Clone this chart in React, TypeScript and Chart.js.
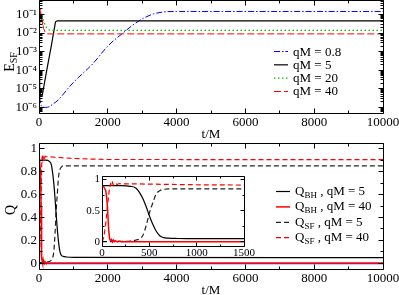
import React, { useEffect, useRef } from 'react';
import { Chart, registerables } from 'chart.js';
Chart.register(...registerables);

const FONT = "'Liberation Serif', 'Times New Roman', Times, serif";

// ---------- top panel: E_SF ----------
const topXTicks = [0, 2000, 4000, 6000, 8000, 10000];
const topXMinor = [1000, 3000, 5000, 7000, 9000];
const topYTicks = [1e-6, 1e-5, 1e-4, 1e-3, 1e-2, 1e-1];
const topYTickLabels = ['10⁻⁶', '10⁻⁵', '10⁻⁴', '10⁻³', '10⁻²', '10⁻¹'];
const topLegend = ['qM = 0.8', 'qM = 5', 'qM = 20', 'qM = 40'];

const tQm08 = [0, 20, 50, 100, 200, 300, 400, 560, 790, 1000, 1580, 2000, 2440, 2730, 3030, 3320, 3600, 4000, 10000];
const eQm08 = [1.5e-5, 4e-6, 1.5e-6, 1.1e-6, 1.0e-6, 1.1e-6, 1.5e-6, 2.5e-6, 8e-6, 2.2e-5, 2.4e-4, 2e-3, 1e-2, 2.7e-2, 6.2e-2, 1.06e-1, 1.35e-1, 1.45e-1, 1.45e-1];
const tQm5 = [0, 20, 50, 90, 210, 355, 480, 530, 10000];
const eQm5 = [1e-4, 1e-5, 4e-6, 4e-6, 7e-5, 1.9e-3, 4e-2, 4.6e-2, 4.5e-2];
const tQm20 = [0, 15, 40, 70, 100, 140, 200, 260, 320, 10000];
const eQm20 = [1e-3, 1e-2, 8e-2, 1.1e-1, 7e-2, 4e-2, 2.2e-2, 1.6e-2, 1.4e-2, 1.4e-2];
const tQm40 = [0, 10, 20, 30, 40, 50, 60, 70, 80, 90, 100, 115, 130, 150, 180, 220, 10000];
const eQm40 = [1e-2, 5e-2, 1.5e-1, 2e-1, 9e-2, 1.4e-1, 6e-2, 1e-1, 4e-2, 7e-2, 3e-2, 4e-2, 1.8e-2, 1.5e-2, 1.1e-2, 9e-3, 9e-3];

// ---------- bottom panel: Q ----------
const botXTicks = [0, 2000, 4000, 6000, 8000, 10000];
const botXMinor = [1000, 3000, 5000, 7000, 9000];
const botYTicks = [0, 0.2, 0.4, 0.6, 0.8, 1];
const botYTickLabels = ['0', '0.2', '0.4', '0.6', '0.8', '1'];
const botYMinor = [0.1, 0.3, 0.5, 0.7, 0.9];
const botLegendMain = ['Q', 'Q', 'Q', 'Q'];
const botLegendSub = ['BH', 'BH', 'SF', 'SF'];
const botLegendRest = [' , qM = 5', ' , qM = 40', ' , qM = 5', ' , qM = 40'];

const tQbh5 = [0, 200, 300, 360, 430, 470, 500, 540, 570, 610, 650, 700, 800, 1000, 10000];
const qBh5 = [0.9, 0.9, 0.89, 0.86, 0.7, 0.55, 0.42, 0.27, 0.18, 0.1, 0.07, 0.06, 0.055, 0.052, 0.05];
const tQsf5 = [0, 300, 360, 430, 470, 500, 540, 570, 610, 650, 700, 800, 10000];
const qSf5 = [0.005, 0.015, 0.03, 0.1, 0.28, 0.46, 0.64, 0.76, 0.82, 0.84, 0.85, 0.85, 0.85];
const tQbh40 = [0, 20, 40, 50, 60, 70, 80, 90, 100, 110, 120, 130, 140, 160, 180, 200, 250, 10000];
const qBh40 = [0.9, 0.88, 0.82, 0.7, 0.5, 0.2, 0.05, 0.02, 0.04, 0.0, 0.03, 0.005, 0.02, 0.0, 0.012, 0.003, 0.003, 0.003];
const tQsf40 = [0, 20, 40, 60, 80, 90, 100, 110, 120, 140, 160, 180, 200, 300, 500, 1000, 1500, 2000, 10000];
const qSf40 = [0.0, 0.08, 0.3, 0.6, 0.88, 0.93, 0.89, 0.95, 0.91, 0.94, 0.92, 0.935, 0.93, 0.93, 0.925, 0.915, 0.91, 0.906, 0.905];
const tBlueBase = [0, 10000];
const qBlueBase = [-0.004, -0.004];

// ---------- inset ----------
const insXTicks = [0, 500, 1000, 1500];
const insXMinor = [250, 750, 1250];
const insYTicks = [0, 0.5, 1];
const insYTickLabels = ['0', '0.5', '1'];
const insYMinor = [0.25, 0.75];

const zip = (t: number[], v: number[]) => t.map((x, i) => ({ x, y: v[i] }));

type Seg = { text: string; size: number; dy: number };
const segsWidth = (ctx: CanvasRenderingContext2D, segs: Seg[]) =>
  segs.reduce((w, s) => { ctx.font = `${s.size}px ${FONT}`; return w + ctx.measureText(s.text).width; }, 0);
const drawSegs = (ctx: CanvasRenderingContext2D, x: number, y: number, segs: Seg[]) => {
  let cx = x;
  ctx.textBaseline = 'alphabetic';
  ctx.textAlign = 'left';
  ctx.fillStyle = '#000';
  for (const s of segs) {
    ctx.font = `${s.size}px ${FONT}`;
    ctx.fillText(s.text, cx, y + s.dy);
    cx += ctx.measureText(s.text).width;
  }
};
const drawRotated = (ctx: CanvasRenderingContext2D, cx: number, cy: number, baseX: number, segs: Seg[]) => {
  ctx.save();
  const w = segsWidth(ctx, segs);
  ctx.translate(baseX, cy);
  ctx.rotate(-Math.PI / 2);
  drawSegs(ctx, -w / 2, 0, segs);
  ctx.restore();
};

type DecorCfg = {
  xMajor: number[]; xMinor: number[]; yMajor: number[]; yMinor: number[];
  majorLen: number; minorLen: number; whiteBg?: boolean;
  extra?: (chart: any) => void;
};
const makeDecor = (c: DecorCfg) => ({
  id: 'decor',
  beforeDatasetsDraw(chart: any) {
    if (!c.whiteBg) return;
    const a = chart.chartArea; const ctx = chart.ctx;
    ctx.save(); ctx.fillStyle = '#fff';
    ctx.fillRect(a.left, a.top, a.right - a.left + 1, a.bottom - a.top + 1);
    ctx.restore();
  },
  afterDatasetsDraw(chart: any) {
    const ctx = chart.ctx; const a = chart.chartArea;
    const f = (v: number) => Math.floor(v) + 0.5;
    const L = f(a.left), R = f(a.right), T = f(a.top), B = f(a.bottom);
    const xs = chart.scales.x, ys = chart.scales.y;
    ctx.save();
    ctx.strokeStyle = '#000'; ctx.lineWidth = 1; ctx.setLineDash([]);
    ctx.beginPath();
    ctx.rect(L, T, R - L, B - T);
    const xt = (vals: number[], len: number) => vals.forEach(v => {
      const p = f(xs.getPixelForValue(v));
      ctx.moveTo(p, B); ctx.lineTo(p, B - len); ctx.moveTo(p, T); ctx.lineTo(p, T + len);
    });
    const yt = (vals: number[], len: number) => vals.forEach(v => {
      const p = f(ys.getPixelForValue(v));
      if (p < T - 0.1 || p > B + 0.1) return;
      ctx.moveTo(L, p); ctx.lineTo(L + len, p); ctx.moveTo(R, p); ctx.lineTo(R - len, p);
    });
    xt(c.xMajor, c.majorLen); xt(c.xMinor, c.minorLen);
    yt(c.yMajor, c.majorLen); yt(c.yMinor, c.minorLen);
    ctx.stroke();
    ctx.restore();
    if (c.extra) c.extra(chart);
  },
});

const lineDs = (data: any[], color: string, dash: number[], width: number, smooth: boolean) => ({
  data, borderColor: color, backgroundColor: color, borderDash: dash, borderWidth: width,
  pointRadius: 0, fill: false, tension: 0,
  cubicInterpolationMode: smooth ? 'monotone' : 'default',
});

const xScale = (ticks: number[], min: number, max: number, height: number, size: number, pad: number) => ({
  type: 'linear', min, max,
  grid: { display: false, drawTicks: false }, border: { display: false },
  afterBuildTicks: (s: any) => { s.ticks = ticks.map(v => ({ value: v })); },
  ticks: { autoSkip: false, maxRotation: 0, minRotation: 0, color: '#000', padding: pad,
    font: { family: FONT, size }, callback: (v: any) => String(v) },
  afterFit: (s: any) => { s.height = height; s.paddingLeft = 0; s.paddingRight = 0; },
});
const yScale = (type: string, ticks: number[], labels: string[], min: number, max: number, width: number, size: number, pad: number) => ({
  type, min, max,
  grid: { display: false, drawTicks: false }, border: { display: false },
  afterBuildTicks: (s: any) => { s.ticks = ticks.map(v => ({ value: v })); },
  ticks: { autoSkip: false, color: '#000', padding: pad, font: { family: FONT, size },
    callback: (_v: any, i: number) => labels[i] },
  afterFit: (s: any) => { s.width = width; s.paddingTop = 0; s.paddingBottom = 0; },
});

const logMinor = (() => {
  const out: number[] = [];
  for (let e = -7; e <= 0; e++) for (let m = 2; m <= 9; m++) out.push(m * Math.pow(10, e));
  return out.filter(v => v > 5e-7 && v < 0.6);
})();

export default function App() {
  const topRef = useRef<HTMLCanvasElement>(null);
  const botRef = useRef<HTMLCanvasElement>(null);
  const insRef = useRef<HTMLCanvasElement>(null);

  useEffect(() => {
    // top
    const topDs = [
      lineDs(zip(tQm40, eQm40), '#ff0000', [7, 3], 1, false),
      lineDs(zip(tQm20, eQm20), '#00c000', [1.5, 2.5], 1.2, false),
      lineDs(zip(tQm5, eQm5), '#000000', [], 1.2, false),
      lineDs(zip(tQm08, eQm08), '#0000ff', [6, 2, 1.5, 2], 1, true),
    ];
    const topLegendIdx = [3, 2, 1, 0];
    const topChart = new Chart(topRef.current as any, {
      type: 'line',
      data: { datasets: topDs as any },
      plugins: [makeDecor({
        xMajor: topXTicks, xMinor: topXMinor, yMajor: topYTicks, yMinor: logMinor,
        majorLen: 5, minorLen: 3,
        extra: (chart: any) => {
          const ctx = chart.ctx as CanvasRenderingContext2D;
          topLegend.forEach((lab, i) => {
            const ds: any = topDs[topLegendIdx[i]];
            const y = 51.5 + i * 13.33;
            ctx.save();
            ctx.strokeStyle = ds.borderColor; ctx.lineWidth = ds.borderWidth; ctx.setLineDash(ds.borderDash);
            ctx.beginPath(); ctx.moveTo(274, y); ctx.lineTo(288, y); ctx.stroke();
            ctx.restore();
            drawSegs(ctx, 293, y + 4, [{ text: lab, size: 13, dy: 0 }]);
          });
          const a = chart.chartArea;
          const segs = [{ text: 't/M', size: 13, dy: 0 }];
          const w = segsWidth(ctx, segs);
          drawSegs(ctx, (a.left + a.right) / 2 - w / 2, 137.5, segs);
          drawRotated(ctx, 0, 62, 14, [{ text: 'E', size: 14, dy: 0 }, { text: 'SF', size: 10, dy: 3 }]);
        },
      }) as any],
      options: {
        animation: false, responsive: false, maintainAspectRatio: false,
        layout: { padding: { left: 0, right: 16, top: 0, bottom: 0 } },
        plugins: { legend: { display: false }, tooltip: { enabled: false } },
        scales: {
          x: xScale(topXTicks, 0, 10000, 27, 13, 2) as any,
          y: yScale('logarithmic', topYTicks, topYTickLabels, 5e-7, 0.6, 39, 13, 2) as any,
        },
      } as any,
    });

    // bottom
    const mkQ = () => [
      lineDs(zip(tQbh40, qBh40), '#ff0000', [], 1.5, false),
      lineDs(zip(tQsf40, qSf40), '#ff0000', [5, 3], 1.2, false),
      lineDs(zip(tQbh5, qBh5), '#000000', [], 1.2, true),
      lineDs(zip(tQsf5, qSf5), '#222222', [5, 3], 1.2, true),
    ];
    const botDs = [...mkQ(), lineDs(zip(tBlueBase, qBlueBase), '#0000ff', [], 1, false)];
    const botLegendIdx = [2, 0, 3, 1];
    const botChart = new Chart(botRef.current as any, {
      type: 'line',
      data: { datasets: botDs as any },
      plugins: [makeDecor({
        xMajor: botXTicks, xMinor: botXMinor, yMajor: botYTicks, yMinor: botYMinor,
        majorLen: 5, minorLen: 3,
        extra: (chart: any) => {
          const ctx = chart.ctx as CanvasRenderingContext2D;
          botLegendMain.forEach((m, i) => {
            const ds: any = botDs[botLegendIdx[i]];
            const y = 51.5 + i * 15.4;
            ctx.save();
            ctx.strokeStyle = ds.borderColor; ctx.lineWidth = ds.borderWidth; ctx.setLineDash(ds.borderDash);
            ctx.beginPath(); ctx.moveTo(276, y); ctx.lineTo(290, y); ctx.stroke();
            ctx.restore();
            drawSegs(ctx, 295, y + 3.5, [
              { text: m, size: 13, dy: 0 },
              { text: botLegendSub[i], size: 9, dy: 3 },
              { text: botLegendRest[i], size: 13, dy: 0 },
            ]);
          });
          const a = chart.chartArea;
          const segs = [{ text: 't/M', size: 13, dy: 0 }];
          const w = segsWidth(ctx, segs);
          drawSegs(ctx, (a.left + a.right) / 2 - w / 2, 153.5, segs);
          drawRotated(ctx, 0, 70, 15, [{ text: 'Q', size: 14, dy: 0 }]);
        },
      }) as any],
      options: {
        animation: false, responsive: false, maintainAspectRatio: false,
        layout: { padding: { left: 0, right: 16, top: 3, bottom: 0 } },
        plugins: { legend: { display: false }, tooltip: { enabled: false } },
        scales: {
          x: xScale(botXTicks, 0, 10000, 26, 13, 2) as any,
          y: yScale('linear', botYTicks, botYTickLabels, -0.05, 1.05, 39, 13, 2) as any,
        },
      } as any,
    });

    // inset
    const insDs = mkQ();
    const insChart = new Chart(insRef.current as any, {
      type: 'line',
      data: { datasets: insDs as any },
      plugins: [makeDecor({
        xMajor: insXTicks, xMinor: insXMinor, yMajor: insYTicks, yMinor: insYMinor,
        majorLen: 4, minorLen: 2, whiteBg: true,
      }) as any],
      options: {
        animation: false, responsive: false, maintainAspectRatio: false,
        layout: { padding: { left: 0, right: 16, top: 6, bottom: 0 } },
        plugins: { legend: { display: false }, tooltip: { enabled: false } },
        scales: {
          x: xScale(insXTicks, 0, 1500, 16, 11, 1) as any,
          y: yScale('linear', insYTicks, insYTickLabels, -0.065, 1.055, 22, 11, 2) as any,
        },
      } as any,
    });

    return () => { topChart.destroy(); botChart.destroy(); insChart.destroy(); };
  }, []);

  return (
    <div style={{ position: 'absolute', left: 0, top: 0, width: 399, height: 295, background: '#fff', overflow: 'hidden' }}>
      <canvas ref={topRef} width={399} height={140} style={{ position: 'absolute', left: 0, top: 0, width: 399, height: 140 }} />
      <canvas ref={botRef} width={399} height={155} style={{ position: 'absolute', left: 0, top: 140, width: 399, height: 155 }} />
      <canvas ref={insRef} width={180} height={92} style={{ position: 'absolute', left: 80, top: 170, width: 180, height: 92 }} />
    </div>
  );
}
